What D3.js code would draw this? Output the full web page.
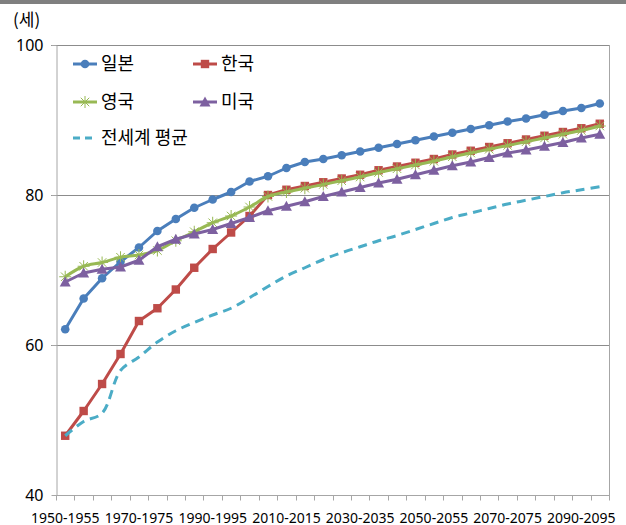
<!DOCTYPE html>
<html>
<head>
<meta charset="utf-8">
<script src="https://cdn.jsdelivr.net/npm/d3@7"></script>
<style>
  html, body { margin: 0; padding: 0; background: #fff; }
  svg { display: block; }
  text { font-family: "Noto Sans CJK KR", "Noto Sans", sans-serif; fill: #000; }
</style>
</head>
<body>
<svg id="chart" width="626" height="525"></svg>
<script>
// Five-year periods, 1950-1955 .. 2095-2100
const periods = d3.range(1950, 2100, 5).map(y => `${y}-${y + 5}`);
const tickLabels = ["1950-1955", "1970-1975", "1990-1995", "2010-2015",
                    "2030-2035", "2050-2055", "2070-2075", "2090-2095"];
const yTicks = [40, 60, 80, 100];

// Life expectancy at birth (years)
const japan = [62.1, 66.2, 68.9, 71.1, 73.0, 75.2, 76.8, 78.3, 79.4, 80.4,
               81.8, 82.5, 83.6, 84.4, 84.8, 85.3, 85.8, 86.3, 86.8, 87.3,
               87.8, 88.3, 88.8, 89.3, 89.8, 90.2, 90.7, 91.2, 91.6, 92.2];
const korea = [47.9, 51.2, 54.8, 58.8, 63.2, 64.9, 67.4, 70.3, 72.8, 75.0,
               77.2, 80.0, 80.7, 81.2, 81.7, 82.2, 82.7, 83.3, 83.8, 84.3,
               84.8, 85.4, 85.9, 86.4, 86.9, 87.4, 87.9, 88.4, 88.9, 89.5];
const uk    = [69.1, 70.5, 71.0, 71.7, 72.0, 72.6, 73.9, 75.1, 76.3, 77.2,
               78.4, 79.8, 80.4, 80.9, 81.4, 81.9, 82.4, 83.0, 83.5, 84.0,
               84.5, 85.1, 85.6, 86.1, 86.6, 87.1, 87.6, 88.1, 88.6, 89.2];
const usa   = [68.4, 69.6, 70.1, 70.4, 71.3, 73.1, 74.1, 74.8, 75.4, 76.2,
               77.0, 77.9, 78.5, 79.1, 79.8, 80.4, 81.0, 81.6, 82.1, 82.7,
               83.3, 83.9, 84.4, 85.0, 85.6, 86.0, 86.5, 87.0, 87.6, 88.1];
const world = [47.9, 49.8, 50.9, 56.6, 58.4, 60.4, 61.9, 63.0, 64.0, 64.9,
               66.3, 67.8, 69.2, 70.3, 71.4, 72.3, 73.1, 73.9, 74.6, 75.4,
               76.2, 77.0, 77.6, 78.2, 78.8, 79.3, 79.8, 80.3, 80.7, 81.1];

const seriesNames = ["일본", "한국", "영국", "미국", "전세계 평균"];

const series = [
  { name: seriesNames[0], values: japan, color: "#4a7ebb", marker: "circle", curve: d3.curveLinear },
  { name: seriesNames[1], values: korea, color: "#be4b48", marker: "square", curve: d3.curveLinear },
  { name: seriesNames[2], values: uk,    color: "#98b954", marker: "star",   curve: d3.curveCatmullRom.alpha(0.5) },
  { name: seriesNames[3], values: usa,   color: "#7d60a0", marker: "triangle", curve: d3.curveLinear },
  { name: seriesNames[4], values: world, color: "#4bacc6", marker: null, dash: "9,6", curve: d3.curveCatmullRom.alpha(0.5) }
];

const svg = d3.select("#chart");
const plotL = 56, plotR = 609, plotT = 45, plotB = 495;

const x = d3.scaleBand().domain(periods).range([plotL, plotR]).paddingInner(0).paddingOuter(0);
const y = d3.scaleLinear().domain([40, 100]).range([plotB, plotT]);
const cx = p => x(p) + x.bandwidth() / 2;

// top strip
svg.append("rect").attr("x", 0).attr("y", 0).attr("width", 626).attr("height", 4).attr("fill", "#7f7f7f");

// gridlines (100 acts as the plot's top edge)
svg.append("g").selectAll("line").data(yTicks.filter(v => v > 40)).join("line")
  .attr("x1", plotL - 5).attr("x2", plotR)
  .attr("y1", d => Math.round(y(d)) + 0.5).attr("y2", d => Math.round(y(d)) + 0.5)
  .attr("stroke", "#8c8c8c").attr("stroke-width", 1);

// right border of plot area
svg.append("line").attr("x1", plotR + 0.5).attr("x2", plotR + 0.5)
  .attr("y1", plotT).attr("y2", plotB).attr("stroke", "#a6a6a6");

// y axis
const yAxis = svg.append("g").attr("transform", `translate(${plotL + 0.5},0)`)
  .call(d3.axisLeft(y).tickValues(yTicks).tickSize(5).tickSizeOuter(0).tickPadding(8));
yAxis.select(".domain").attr("stroke", "#a6a6a6");
yAxis.selectAll(".tick line").attr("stroke", "#a6a6a6");
yAxis.selectAll("text").style("font-size", "16px").attr("dy", "0.35em")
  .style("font-family", "'Liberation Sans Narrow', 'Noto Sans', sans-serif");

// x axis: ticks at category boundaries, labels every 4th category
const xg = svg.append("g").attr("transform", `translate(0,${plotB + 0.5})`);
xg.append("line").attr("x1", plotL).attr("x2", plotR + 1).attr("stroke", "#a6a6a6");
xg.selectAll("line.tk").data(periods.concat(["end"])).join("line").attr("class", "tk")
  .attr("x1", (d, i) => Math.round(plotL + i * x.bandwidth()) + 0.5)
  .attr("x2", (d, i) => Math.round(plotL + i * x.bandwidth()) + 0.5)
  .attr("y1", 0).attr("y2", 5).attr("stroke", "#a6a6a6");
xg.selectAll("text").data(tickLabels).join("text")
  .attr("x", d => cx(d)).attr("y", 27)
  .attr("text-anchor", "middle")
  .style("font-size", "14px")
  .style("font-family", "'Liberation Sans Narrow', 'Noto Sans', sans-serif")
  .text(d => d);

// unit label
svg.append("text").attr("x", 13).attr("y", 26).style("font-size", "17px").text("(세)");

// markers
function drawMarker(g, type, color, px, py) {
  if (type === "circle") {
    g.append("circle").attr("cx", px).attr("cy", py).attr("r", 4.3).attr("fill", color);
  } else if (type === "square") {
    g.append("rect").attr("x", px - 4.2).attr("y", py - 4.2).attr("width", 8.4).attr("height", 8.4).attr("fill", color);
  } else if (type === "triangle") {
    const s = 5.5;
    g.append("path").attr("d", `M${px},${py - s}L${px + s},${py + s * 0.8}L${px - s},${py + s * 0.8}Z`).attr("fill", color);
  } else if (type === "star") {
    const r = 6;
    [0, 45, 90, 135].forEach(a => {
      const rad = a * Math.PI / 180;
      g.append("line")
        .attr("x1", px - r * Math.cos(rad)).attr("y1", py - r * Math.sin(rad))
        .attr("x2", px + r * Math.cos(rad)).attr("y2", py + r * Math.sin(rad))
        .attr("stroke", color).attr("stroke-width", 1);
    });
  }
}

// series
series.forEach(s => {
  const g = svg.append("g");
  const line = d3.line().x((d, i) => cx(periods[i])).y(d => y(d)).curve(s.curve);
  g.append("path").datum(s.values).attr("d", line)
    .attr("fill", "none").attr("stroke", s.color).attr("stroke-width", 3)
    .attr("stroke-dasharray", s.dash || null)
    .attr("stroke-linejoin", "round");
  if (s.marker) s.values.forEach((v, i) => drawMarker(g, s.marker, s.color, cx(periods[i]), y(v)));
});

// legend
const legendPos = [[73, 64], [193, 64], [73, 102], [193, 102], [73, 138]];
series.forEach((s, i) => {
  const [lx, ly] = legendPos[i];
  const g = svg.append("g");
  g.append("line").attr("x1", lx).attr("x2", lx + 24).attr("y1", ly).attr("y2", ly)
    .attr("stroke", s.color).attr("stroke-width", 3).attr("stroke-dasharray", s.dash ? "7,5" : null);
  if (s.marker) drawMarker(g, s.marker, s.color, lx + 12, ly);
  g.append("text").attr("x", lx + 28).attr("y", ly).attr("dy", "0.36em")
    .style("font-size", "18px").text(s.name);
});
</script>
</body>
</html>
